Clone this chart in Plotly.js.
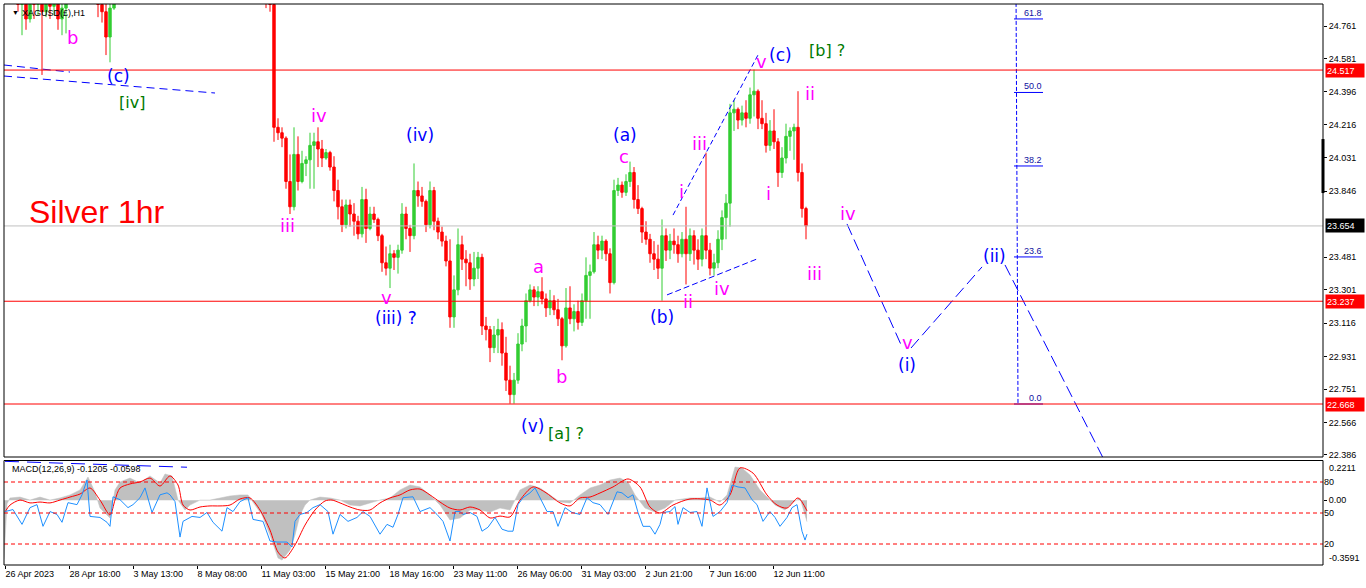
<!DOCTYPE html>
<html><head><meta charset="utf-8">
<script src="https://cdn.plot.ly/plotly-3.0.1.min.js"></script>
<style>html,body{margin:0;padding:0;background:#fff;}#chart{width:1366px;height:588px;}</style>
</head><body><div id="chart"></div>
<script>
// ---------- price bars (XAGUSD H1, one entry per 4 hourly bars) ----------
const candleOpen = [25.00,24.98,24.95,24.92,24.88,24.90,24.80,24.91,24.88,24.93,
24.84,24.92,24.87,24.93,24.80,24.86,24.90,24.96,25.00,25.04,
24.99,25.02,24.97,24.95,24.88,24.84,24.70,24.86,25.02,25.06,
25.11,25.09,25.13,25.19,25.15,25.10,25.14,25.21,25.26,25.24,
25.18,25.22,25.28,25.25,25.17,25.12,25.16,25.13,25.08,25.11,
25.17,25.14,25.09,25.12,25.18,25.23,25.20,25.15,25.19,25.22,
25.18,25.14,25.16,25.19,25.17,25.10,24.95,24.88,24.20,24.17,
24.14,23.90,23.76,24.05,23.90,24.00,24.02,24.10,24.12,24.08,
24.03,24.06,23.98,23.85,23.76,23.66,23.77,23.72,23.68,23.61,
23.80,23.64,23.72,23.69,23.60,23.45,23.42,23.50,23.48,23.52,
23.72,23.64,23.60,23.85,23.82,23.79,23.66,23.85,23.68,23.62,
23.57,23.46,23.15,23.30,23.55,23.47,23.45,23.36,23.42,23.48,
23.10,23.08,22.98,23.05,23.08,22.95,22.80,22.72,22.80,23.00,
23.10,23.24,23.30,23.26,23.29,23.25,23.20,23.24,23.19,23.14,
22.99,23.20,23.14,23.18,23.12,23.24,23.38,23.40,23.55,23.52,
23.57,23.50,23.34,23.85,23.88,23.84,23.90,23.95,23.80,23.75,
23.62,23.58,23.50,23.47,23.42,23.60,23.52,23.57,23.55,23.50,
23.58,23.50,23.60,23.52,23.47,23.60,23.52,23.42,23.45,23.58,
23.70,23.78,24.28,24.30,24.24,24.28,24.25,24.38,24.40,24.25,
24.22,24.10,24.18,24.12,23.95,24.03,24.15,24.18,24.20,23.95,
23.75];
const candleHigh = [25.05,25.02,25.00,24.97,24.95,24.96,24.93,24.98,24.97,24.99,
24.95,24.98,24.96,24.97,24.90,24.94,25.00,25.05,25.08,25.10,
25.06,25.07,25.03,25.00,24.97,24.92,24.90,25.05,25.10,25.14,
25.18,25.16,25.22,25.25,25.20,25.17,25.24,25.30,25.33,25.29,
25.26,25.31,25.35,25.30,25.23,25.19,25.22,25.18,25.15,25.20,
25.24,25.19,25.16,25.21,25.27,25.29,25.26,25.22,25.25,25.28,
25.24,25.20,25.23,25.26,25.22,25.15,25.02,24.90,24.25,24.20,
24.15,24.05,24.20,24.15,24.07,24.04,24.17,24.17,24.20,24.13,
24.08,24.07,24.04,23.91,23.80,23.80,23.80,23.78,23.71,23.87,
23.86,23.76,23.76,23.70,23.61,23.54,23.55,23.52,23.55,23.78,
23.76,23.66,24.00,23.90,23.87,23.80,23.90,23.87,23.70,23.65,
23.60,23.58,23.38,23.64,23.60,23.52,23.50,23.51,23.51,23.50,
23.15,23.10,23.10,23.14,23.12,23.04,22.88,22.84,23.06,23.14,
23.28,23.33,23.32,23.32,23.37,23.28,23.30,23.27,23.25,23.15,
23.31,23.32,23.22,23.24,23.28,23.48,23.44,23.62,23.60,23.60,
23.58,23.53,23.91,23.92,23.90,23.94,24.01,23.98,23.88,23.76,
23.68,23.61,23.57,23.55,23.69,23.64,23.61,23.64,23.60,23.62,
23.76,23.64,23.63,23.58,23.64,24.06,23.56,23.50,23.63,23.74,
23.83,24.33,24.35,24.31,24.32,24.35,24.42,24.52,24.41,24.35,
24.28,24.24,24.30,24.14,24.09,24.22,24.20,24.22,24.40,24.00,
23.76];
const candleLow = [24.92,24.90,24.89,24.84,24.71,24.74,24.78,24.80,24.82,24.49,
24.81,24.80,24.82,24.74,24.71,24.72,24.89,24.91,24.93,24.95,
24.92,24.94,24.90,24.81,24.78,24.60,24.56,24.85,24.95,25.00,
25.05,25.02,25.08,25.12,25.06,25.03,25.10,25.16,25.20,25.15,
25.12,25.18,25.21,25.14,25.08,25.05,25.09,25.04,25.01,25.06,
25.11,25.05,25.02,25.08,25.13,25.16,25.12,25.09,25.14,25.15,
25.10,25.07,25.11,25.13,25.06,24.86,24.84,24.12,24.13,24.09,
23.86,23.72,23.74,23.85,23.89,23.93,23.86,23.86,23.98,23.98,
24.02,23.96,23.79,23.69,23.62,23.64,23.65,23.60,23.58,23.59,
23.56,23.63,23.67,23.57,23.40,23.38,23.31,23.41,23.39,23.50,
23.58,23.51,23.58,23.76,23.76,23.62,23.64,23.63,23.58,23.54,
23.43,23.09,23.09,23.27,23.41,23.32,23.30,23.32,23.36,23.05,
23.02,22.90,22.95,22.95,22.88,22.74,22.67,22.67,22.78,22.96,
23.01,23.23,23.21,23.21,23.22,23.15,23.16,23.16,23.10,22.91,
22.98,23.11,23.07,23.08,23.10,23.14,23.14,23.39,23.47,23.47,
23.46,23.28,23.33,23.82,23.81,23.82,23.87,23.75,23.72,23.56,
23.55,23.45,23.41,23.36,23.24,23.46,23.47,23.50,23.45,23.48,
23.33,23.46,23.44,23.41,23.43,23.47,23.38,23.38,23.42,23.52,
23.58,23.65,24.18,24.19,24.21,24.20,24.22,24.26,24.19,24.19,
24.06,24.07,24.08,23.87,23.92,24.00,24.07,24.02,23.90,23.70,
23.58];
const candleClose = [24.98,24.95,24.92,24.88,24.90,24.80,24.91,24.88,24.93,24.84,
24.92,24.87,24.93,24.80,24.86,24.90,24.96,25.00,25.04,24.99,
25.02,24.97,24.95,24.88,24.84,24.70,24.86,25.02,25.06,25.11,
25.09,25.13,25.19,25.15,25.10,25.14,25.21,25.26,25.24,25.18,
25.22,25.28,25.25,25.17,25.12,25.16,25.13,25.08,25.11,25.17,
25.14,25.09,25.12,25.18,25.23,25.20,25.15,25.19,25.22,25.18,
25.14,25.16,25.19,25.17,25.10,24.95,24.88,24.20,24.17,24.14,
23.90,23.76,24.05,23.90,24.00,24.02,24.10,24.12,24.08,24.03,
24.06,23.98,23.85,23.76,23.66,23.77,23.72,23.68,23.61,23.80,
23.64,23.72,23.69,23.60,23.45,23.42,23.50,23.48,23.52,23.72,
23.64,23.60,23.85,23.82,23.79,23.66,23.85,23.68,23.62,23.57,
23.46,23.15,23.30,23.55,23.47,23.45,23.36,23.42,23.48,23.10,
23.08,22.98,23.05,23.08,22.95,22.80,22.72,22.80,23.00,23.10,
23.24,23.30,23.26,23.29,23.25,23.20,23.24,23.19,23.14,22.99,
23.20,23.14,23.18,23.12,23.24,23.38,23.40,23.55,23.52,23.57,
23.50,23.34,23.85,23.88,23.84,23.90,23.95,23.80,23.75,23.62,
23.58,23.50,23.47,23.42,23.60,23.52,23.57,23.55,23.50,23.58,
23.50,23.60,23.52,23.47,23.60,23.52,23.42,23.45,23.58,23.70,
23.78,24.28,24.30,24.24,24.28,24.25,24.38,24.40,24.25,24.22,
24.10,24.18,24.12,23.95,24.03,24.15,24.18,24.20,23.95,23.75,
23.654];

// ---------- time axis (hour-bar index) ----------
const timeTickBars = [1,65,129,193,257,321,385,449,513,577,641,705,769];
const timeTickLabels = ['26 Apr 2023','28 Apr 18:00','3 May 13:00','8 May 08:00','11 May 03:00','15 May 21:00','18 May 16:00','23 May 11:00','26 May 06:00','31 May 03:00','2 Jun 21:00','7 Jun 16:00','12 Jun 11:00'];
const priceTicks = [24.761,24.581,24.396,24.216,24.031,23.846,23.481,23.301,23.116,22.931,22.751,22.566,22.386];

// ---------- horizontal levels ----------
const redLevels = [24.517, 23.237, 22.668];
const bidPrice = 23.654;

// ---------- MACD(12,26,9) panel ----------
const histBars = [0,3,6,16,26,36,46,56,66,76,84,91,96,106,111,116,126,136,146,156,161,168,174,181,186,196,206,216,226,236,244,251,258,266,274,278,286,291,296,301,306,316,326,336,346,356,366,376,386,396,406,416,426,436,446,456,466,476,486,496,506,511,516,526,536,546,556,566,576,586,596,606,616,624,631,641,651,661,671,686,696,706,716,723,731,738,746,756,763,771,781,788,796,803];
const histValues = [-0.33,-0.02,0.013,0.018,0.001,0.018,0.001,0.013,0.030,0.058,0.131,0.046,-0.044,-0.100,0.058,0.103,0.125,0.097,0.137,0.097,0.148,0.137,0.001,-0.055,-0.027,0.001,0.001,0.013,0.024,0.030,0.030,-0.027,-0.083,-0.196,-0.325,-0.337,-0.280,-0.196,-0.083,-0.027,0.001,0.018,0.013,0.001,-0.027,-0.032,-0.015,0.001,0.013,0.058,0.086,0.075,0.030,-0.027,-0.111,-0.100,-0.055,-0.055,-0.066,-0.044,-0.055,0.001,0.058,0.086,0.069,0.030,-0.010,-0.015,0.030,0.069,0.086,0.114,0.125,0.103,0.030,-0.044,-0.066,-0.044,0.001,0.013,0.013,0.018,-0.010,0.030,0.187,0.182,0.142,0.058,0.018,-0.027,-0.055,-0.015,0.013,-0.1205];
const signalBars = [1,6,16,26,36,46,56,66,76,86,96,106,111,116,126,136,146,156,166,174,179,186,196,206,216,226,236,246,256,266,274,281,291,301,311,321,328,336,346,356,366,376,386,396,406,416,426,436,446,456,466,476,486,496,506,516,529,541,556,566,576,586,596,609,624,636,646,656,669,686,706,716,726,736,749,763,773,783,794,803];
const signalValues = [-0.066,-0.027,0.001,-0.015,-0.010,-0.015,0.001,0.018,0.035,0.069,0.001,-0.083,0.001,0.069,0.092,0.103,0.125,0.080,0.137,0.086,-0.027,-0.055,-0.038,-0.032,-0.032,-0.027,0.007,0.013,-0.055,-0.168,-0.292,-0.325,-0.252,-0.140,-0.055,-0.004,0.001,-0.015,-0.038,-0.055,-0.055,-0.015,0.013,0.030,0.058,0.063,0.030,-0.010,-0.044,-0.055,-0.038,-0.055,-0.100,-0.089,-0.094,0.001,0.075,0.046,-0.015,-0.032,0.013,0.018,0.041,0.075,0.120,0.075,-0.038,-0.072,-0.027,0.007,0.001,-0.027,0.030,0.182,0.153,0.030,-0.027,-0.044,0.013,-0.0598];
const oscBars = [1,9,18,26,33,39,46,53,58,64,73,78,83,86,96,103,106,109,116,124,129,136,141,148,156,163,166,171,176,179,188,196,203,209,218,223,229,236,244,249,259,266,273,283,288,291,296,303,309,316,324,329,336,344,353,359,366,376,383,389,394,399,409,416,426,433,439,446,451,456,459,466,473,478,484,491,498,504,509,514,519,526,531,536,543,549,554,561,568,576,583,589,596,604,613,618,624,629,634,639,646,651,656,659,666,671,674,679,686,693,698,703,709,716,723,728,734,741,748,753,759,766,771,776,783,788,793,798,801,803];
const oscValues = [51.4,53.3,39.0,55.2,58.1,37.1,51.4,48.6,41.0,60.0,58.1,67.6,81.9,46.7,45.7,41.0,37.1,65.7,62.9,55.2,58.1,64.8,74.3,50.5,67.6,69.5,67.6,61.0,26.7,41.9,46.7,45.7,50.5,41.0,32.4,55.2,51.4,61.0,64.8,43.8,41.9,22.9,21.9,21.9,17.1,41.9,48.6,50.5,55.2,58.1,51.4,29.5,48.6,41.9,45.7,51.4,46.7,29.5,39.0,36.2,48.6,64.8,65.7,51.4,55.2,48.6,41.9,22.9,51.4,51.4,48.6,50.5,46.7,32.4,36.2,45.7,34.3,32.4,32.4,58.1,64.8,69.5,74.3,64.8,51.4,51.4,37.1,55.2,50.5,48.6,64.8,60.0,58.1,48.6,70.5,69.5,64.8,67.6,50.5,37.1,37.1,29.5,39.0,50.5,51.4,56.2,39.0,55.2,50.5,51.4,37.1,74.3,46.7,51.4,60.0,77.1,75.2,74.3,62.9,58.1,41.9,51.4,45.7,37.1,45.7,55.2,58.1,32.4,23.8,29.5];
const oscLevels = [80, 50, 20];
const oscLineBars = [1, 183], oscLineValues = [100, 94.3];

// ---------- analyst drawings (bar index, price) ----------
const chanTopBars = [0, 66], chanTopPrices = [24.545, 24.506];
const chanLowBars = [0, 211], chanLowPrices = [24.484, 24.390];
const wedgeUpBars = [669, 755], wedgeUpPrices = [23.714, 24.611];
const wedgeDnBars = [663, 753], wedgeDnPrices = [23.272, 23.471];
const projBars = [843, 898, null, 907, 978, null, 1001, 1099];
const projPrices = [23.665, 22.984, null, 22.978, 23.427, null, 23.438, 22.37];
const fibZero = 22.668, fibFull = 26.118;
const fibLevels = [61.8, 50.0, 38.2, 23.6, 0.0];
const fibAnchorBars = [1011, 1014];
const fibLevelBars = [1010, 1039];

// ---------- wave labels ----------
const magentaText = ['b','iv','iii','v','a','b','c','i','iii','ii','iv','v','ii','i','iii','iv','v'];
const magentaBars = [68,315,283,382,534,557,620,677,695,684,718,757,806,764,810,844,903];
const magentaPrices = [24.700,24.268,23.659,23.255,23.432,22.823,24.036,23.842,24.113,23.238,23.310,24.562,24.390,23.836,23.393,23.725,23.011];
const blueText = ['(c)','(iv)','(iii) ?','(a)','(b)','(c)','(v)','(i)','(ii)'];
const blueBars = [114,416,392,621,658,776,528,903,990];
const bluePrices = [24.484,24.157,23.144,24.157,23.150,24.600,22.546,22.884,23.488];
const greenText = ['[iv]','[b] ?','[a] ?'];
const greenBars = [128,823,562];
const greenPrices = [24.335,24.628,22.507];

// ================= build =================
const UI = 'Liberation Sans, Arial, sans-serif';
const WAVE = 'DejaVu Sans, Verdana, sans-serif';
const candleT = candleOpen.map((_, i) => i * 4 + 2);

const traces = [];
traces.push({type:'candlestick', x:candleT, open:candleOpen, high:candleHigh, low:candleLow, close:candleClose,
  xaxis:'x', yaxis:'y', whiskerwidth:0, hoverinfo:'skip', showlegend:false,
  increasing:{line:{color:'#32CD32', width:1}, fillcolor:'#32CD32'},
  decreasing:{line:{color:'#FF0000', width:1}, fillcolor:'#FF0000'}});
function dashLine(xs, ys, dash, ax, color) {
  traces.push({type:'scatter', mode:'lines', x:xs, y:ys, xaxis:'x', yaxis:ax||'y', connectgaps:false,
    line:{color:color||'#0000FF', width:1, dash:dash}, hoverinfo:'skip', showlegend:false});
}
dashLine(chanTopBars, chanTopPrices, '8px,5px');
dashLine(chanLowBars, chanLowPrices, '8px,5px');
dashLine(wedgeUpBars, wedgeUpPrices, '5px,3px');
dashLine(wedgeDnBars, wedgeDnPrices, '6px,3px');
dashLine(projBars, projPrices, '12px,5px');
dashLine(fibAnchorBars, [fibFull, fibZero], '4px,2px');
fibLevels.forEach(l => {
  const p = fibZero + l / 100 * (fibFull - fibZero);
  traces.push({type:'scatter', mode:'lines', x:fibLevelBars, y:[p, p], xaxis:'x', yaxis:'y',
    line:{color:'#0000FF', width:1}, hoverinfo:'skip', showlegend:false});
});

// MACD panel
traces.push({type:'scatter', mode:'lines', x:histBars, y:histValues, xaxis:'x', yaxis:'y2', fill:'tozeroy',
  fillcolor:'#C0C0C0', line:{color:'#C0C0C0', width:0.5}, hoverinfo:'skip', showlegend:false});
traces.push({type:'scatter', mode:'lines', x:signalBars, y:signalValues, xaxis:'x', yaxis:'y2',
  line:{color:'#FF0000', width:1, shape:'spline', smoothing:0.8}, hoverinfo:'skip', showlegend:false});
traces.push({type:'scatter', mode:'lines', x:oscBars, y:oscValues, xaxis:'x', yaxis:'y3',
  line:{color:'#1E90FF', width:1}, hoverinfo:'skip', showlegend:false});
dashLine(oscLineBars, oscLineValues, '14px,8px', 'y3');
oscLevels.forEach(l => dashLine([0, 1319], [l, l], '4px,3px', 'y3', '#FF0000'));

const shapes = [];
redLevels.forEach(p => shapes.push({type:'line', xref:'x domain', x0:0, x1:1, yref:'y', y0:p, y1:p, line:{color:'#FF0000', width:1}}));
shapes.push({type:'line', xref:'x domain', x0:0, x1:1, yref:'y', y0:bidPrice, y1:bidPrice, line:{color:'#C0C0C0', width:1}});
shapes.push({type:'rect', xref:'x domain', x0:0, x1:1, yref:'y domain', y0:0, y1:1, line:{color:'#000', width:1}});
shapes.push({type:'rect', xref:'x domain', x0:0, x1:1, yref:'y2 domain', y0:0, y1:1, line:{color:'#000', width:1}});
shapes.push({type:'line', xref:'x domain', x0:1, x1:1, yref:'y', y0:24.135, y1:23.836, line:{color:'#000', width:3}});

const ann = [];
function waveLabels(texts, bars, prices, color, size) {
  texts.forEach((t, i) => ann.push({x:bars[i], y:prices[i], xref:'x', yref:'y', text:t, showarrow:false,
    font:{family:WAVE, size:size, color:color}, xanchor:'center', yanchor:'middle'}));
}
waveLabels(magentaText, magentaBars, magentaPrices, '#FF00FF', 18);
waveLabels(blueText, blueBars, bluePrices, '#0000FF', 17);
waveLabels(greenText, greenBars, greenPrices, '#007A00', 16);
ann.push({x:93, y:23.731, xref:'x', yref:'y', text:'Silver 1hr', showarrow:false,
  font:{family:UI, size:32, color:'#FF0000'}, xanchor:'center', yanchor:'middle'});
fibLevels.forEach(l => {
  const p = fibZero + l / 100 * (fibFull - fibZero);
  ann.push({x:fibLevelBars[1], y:p, xref:'x', yref:'y', text:l.toFixed(1), showarrow:false,
    font:{family:UI, size:9, color:'#1010A0'}, xanchor:'right', yanchor:'bottom', borderpad:0});
});
const px = v => 1 + v / 1319;
redLevels.forEach(p => ann.push({xref:'paper', x:px(2), xanchor:'left', yref:'y', y:p, text:p.toFixed(3), showarrow:false,
  bgcolor:'#FF0000', font:{family:UI, size:9, color:'#FFFFFF'}, width:36, height:11, align:'left', borderpad:1}));
ann.push({xref:'paper', x:px(2), xanchor:'left', yref:'y', y:bidPrice, text:bidPrice.toFixed(3), showarrow:false,
  bgcolor:'#000000', font:{family:UI, size:9, color:'#FFFFFF'}, width:36, height:11, align:'left', borderpad:1});
ann.push({xref:'paper', x:px(4), xanchor:'left', yref:'y2 domain', y:1, yanchor:'top', text:'0.2211', showarrow:false, font:{family:UI, size:9, color:'#000'}});
ann.push({xref:'paper', x:px(4), xanchor:'left', yref:'y2 domain', y:0, yanchor:'bottom', text:'-0.3591', showarrow:false, font:{family:UI, size:9, color:'#000'}});
ann.push({xref:'paper', x:16/1319, xanchor:'left', yref:'y domain', y:1 - 9/453, yanchor:'middle', text:'XAGUSD(£),H1', showarrow:false, font:{family:UI, size:9, color:'#000'}});
ann.push({xref:'paper', x:6/1319, xanchor:'left', yref:'y domain', y:1 - 8/453, yanchor:'middle', text:'▼', showarrow:false, font:{family:UI, size:7, color:'#000'}});
ann.push({xref:'paper', x:6/1319, xanchor:'left', yref:'y2 domain', y:0.92, yanchor:'middle', text:'MACD(12,26,9) -0.1205 -0.0598', showarrow:false, font:{family:UI, size:9, color:'#000'}});

const tickFont = {family:UI, size:9, color:'#000'};
const layout = {
  width:1366, height:588, margin:{l:4, r:43, t:4, b:23},
  paper_bgcolor:'#FFFFFF', plot_bgcolor:'#FFFFFF', showlegend:false, hovermode:false, boxgap:0.15,
  font:{family:UI, size:9, color:'#000'},
  xaxis:{range:[0,1319], anchor:'y2', showgrid:false, zeroline:false, showline:false,
    tickmode:'array', tickvals:timeTickBars, ticktext:timeTickLabels, ticks:'outside', ticklen:3, tickcolor:'#000',
    ticklabelposition:'outside right', tickfont:tickFont, rangeslider:{visible:false}, fixedrange:true},
  yaxis:{domain:[0.1925,1], range:[22.3745,24.8828], side:'right', anchor:'x', showgrid:false, zeroline:false,
    tickmode:'array', tickvals:priceTicks, ticktext:priceTicks.map(v => v.toFixed(3)), ticks:'outside', ticklen:3,
    tickcolor:'#000', tickfont:tickFont},
  yaxis2:{domain:[0,0.18627], range:[-0.3647,0.2239], side:'right', anchor:'x', showgrid:false, zeroline:false,
    tickmode:'array', tickvals:[0], ticktext:['0.00'], ticks:'outside', ticklen:3, tickcolor:'#000', tickfont:tickFont},
  yaxis3:{overlaying:'y2', range:[-0.319,100.806], side:'right', anchor:'x', showgrid:false, zeroline:false, showline:false,
    tickmode:'array', tickvals:oscLevels, ticktext:oscLevels.map(String), ticks:'', tickfont:tickFont},
  shapes:shapes, annotations:ann
};
Plotly.newPlot('chart', traces, layout, {displayModeBar:false, staticPlot:true});
</script></body></html>
